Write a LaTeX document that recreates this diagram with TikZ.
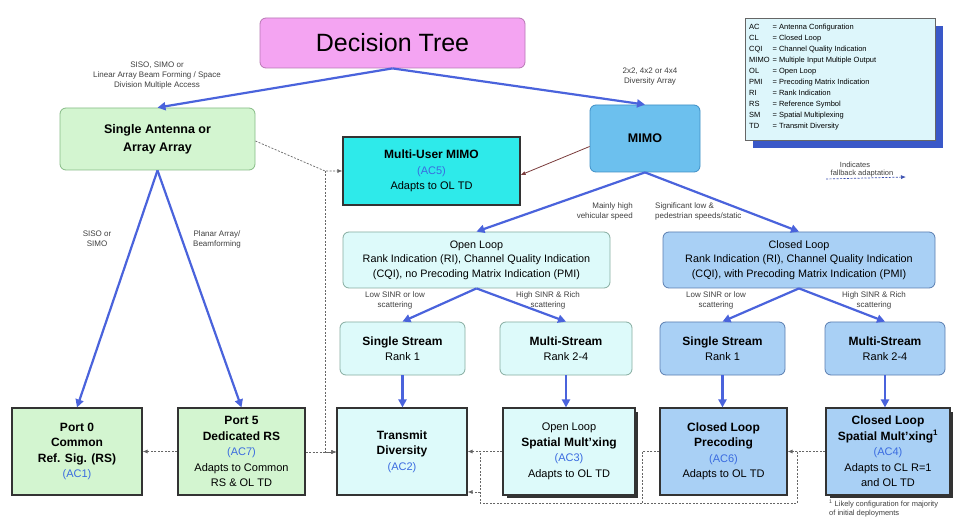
\documentclass[tikz,border=0pt]{standalone}
\usepackage{fontspec}
\setmainfont{Liberation Sans}
\usetikzlibrary{arrows.meta,calc}
\definecolor{pinkbox}{HTML}{F4A4F2}
\definecolor{pinkline}{HTML}{B878B4}
\definecolor{greenbox}{HTML}{D3F5D0}
\definecolor{greenline}{HTML}{86BC86}
\definecolor{mimoblue}{HTML}{6CC0EE}
\definecolor{mimoline}{HTML}{3F8FC6}
\definecolor{mucyan}{HTML}{2EEAEA}
\definecolor{olcyan}{HTML}{DDFAFA}
\definecolor{olline}{HTML}{86ACA0}
\definecolor{clblue}{HTML}{A9D0F5}
\definecolor{clline}{HTML}{5A7DB0}
\definecolor{flowblue}{HTML}{4A63DC}
\definecolor{acblue}{HTML}{3A6BE0}
\definecolor{legendbg}{HTML}{DDF6FB}
\definecolor{legendshadow}{HTML}{3A58C8}
\definecolor{muarrow}{HTML}{7A3B3B}

\newcommand\boxtitle[1]{{\fontsize{12}{15.5}\selectfont\bfseries #1}}
\newcommand\acnum[1]{\textcolor{acblue}{#1}}

\tikzset{
  base/.style={align=center, inner sep=2pt, font=\fontsize{11}{15.5}\selectfont},
  roundbox/.style={base, draw, line width=0.8pt, rounded corners=6pt},
  flatbox/.style={base, draw=black!80, line width=1.1pt},
  flow/.style={draw=flowblue, line width=2.2pt, -{Triangle[length=8pt,width=8pt]}},
  fallback/.style={draw=black!60, line width=0.7pt, dash pattern=on 2pt off 1.5pt, -{Latex[length=5pt,width=4pt]}},
  fbline/.style={draw=black!60, line width=0.7pt, dash pattern=on 2pt off 1.5pt},
  sidearrow/.style={draw=muarrow, line width=0.8pt, -{Latex[length=5pt,width=4pt]}},
  note/.style={font=\fontsize{8}{10}\selectfont, align=center, text=black!75, inner sep=0pt},
}

\begin{document}
\begin{tikzpicture}[x=1pt,y=-1pt]
\useasboundingbox (0,0) rectangle (956,521);
\fill[white] (0,0) rectangle (956,521);

% ---- top level ----
\node[roundbox, draw=pinkline, fill=pinkbox, minimum width=265pt, minimum height=50pt,
      font=\fontsize{25}{29}\selectfont] (dt) at (392.5,43) {Decision Tree};
\node[roundbox, draw=greenline, fill=greenbox, minimum width=195pt, minimum height=62pt,
      font=\fontsize{12.5}{18}\selectfont\bfseries] (sa) at (157.5,139) {Single Antenna or\\Array Array};
\node[roundbox, draw=mimoline, fill=mimoblue, minimum width=110pt, minimum height=67pt,
      font=\fontsize{12.5}{18}\selectfont\bfseries] (mimo) at (645,138.5) {MIMO};
\node[flatbox, fill=mucyan, minimum width=177pt, minimum height=68pt] (mu) at (431.5,171)
      {\boxtitle{Multi-User MIMO}\\\acnum{(AC5)}\\Adapts to OL TD};

% ---- legend ----
\fill[legendshadow] (753,26) rectangle (943,148);
\node[draw=black!60, fill=legendbg, minimum width=190pt, minimum height=122pt, inner sep=0pt] (legend) at (840,79) {};
\node[anchor=north west, inner sep=0pt, font=\fontsize{7.5}{11}\selectfont] (legendtext) at (749,22) {%
  \begin{tabular}{@{}l@{\hspace{3pt}}l@{}}
  AC & = Antenna Configuration\\
  CL & = Closed Loop\\
  CQI & = Channel Quality Indication\\
  MIMO & = Multiple Input Multiple Output\\
  OL & = Open Loop\\
  PMI & = Precoding Matrix Indication\\
  RI & = Rank Indication\\
  RS & = Reference Symbol\\
  SM & = Spatial Multiplexing\\
  TD & = Transmit Diversity
  \end{tabular}};
\node[note, font=\fontsize{7.5}{9}\selectfont] (indic) at (855,165) {Indicates};
\node[note, font=\fontsize{7.5}{9}\selectfont] (fbtext) at (862,174) {fallback adaptation};
\coordinate (kstart) at (826,179);
\coordinate (kend) at (906,177);
\draw[fallback, draw=flowblue!80!black] (kstart) -- (kend);

% ---- second level ----
\node[roundbox, draw=olline, fill=olcyan, minimum width=267pt, minimum height=56pt,
      font=\fontsize{10.8}{14.5}\selectfont] (ol) at (476.5,260)
      {Open Loop\\Rank Indication (RI), Channel Quality Indication\\(CQI), no Precoding Matrix Indication (PMI)};
\node[roundbox, draw=clline, fill=clblue, minimum width=272pt, minimum height=56pt,
      font=\fontsize{10.8}{14.5}\selectfont] (cl) at (799,260)
      {Closed Loop\\Rank Indication (RI), Channel Quality Indication\\(CQI), with Precoding Matrix Indication (PMI)};

\node[roundbox, draw=olline, fill=olcyan, minimum width=125pt, minimum height=53pt] (ss1) at (402.5,348.5)
      {\boxtitle{Single Stream}\\Rank 1};
\node[roundbox, draw=olline, fill=olcyan, minimum width=132pt, minimum height=53pt] (ms1) at (566,348.5)
      {\boxtitle{Multi-Stream}\\Rank 2-4};
\node[roundbox, draw=clline, fill=clblue, minimum width=125pt, minimum height=53pt] (ss2) at (722.5,348.5)
      {\boxtitle{Single Stream}\\Rank 1};
\node[roundbox, draw=clline, fill=clblue, minimum width=120pt, minimum height=53pt] (ms2) at (885,348.5)
      {\boxtitle{Multi-Stream}\\Rank 2-4};

% ---- antenna configurations ----
\node[flatbox, fill=greenbox, minimum width=130pt, minimum height=87pt] (p0) at (77,451.5)
      {\boxtitle{Port 0}\\\boxtitle{Common}\\\boxtitle{Ref. Sig. (RS)}\\\acnum{(AC1)}};
\node[flatbox, fill=greenbox, minimum width=127pt, minimum height=87pt] (p5) at (241.5,451.5)
      {\boxtitle{Port 5}\\\boxtitle{Dedicated RS}\\\acnum{(AC7)}\\Adapts to Common\\RS \& OL TD};
\node[flatbox, fill=olcyan, minimum width=130pt, minimum height=87pt] (td) at (402,451.5)
      {\boxtitle{Transmit}\\\boxtitle{Diversity}\\\acnum{(AC2)}};
\fill[black!80] (507,412) rectangle (638,498);
\node[flatbox, fill=olcyan, minimum width=132pt, minimum height=87pt] (olsm) at (569,451.5)
      {Open Loop\\\boxtitle{Spatial Mult'xing}\\\acnum{(AC3)}\\Adapts to OL TD};
\node[flatbox, fill=clblue, minimum width=127pt, minimum height=87pt] (clp) at (723.5,451.5)
      {\boxtitle{Closed Loop}\\\boxtitle{Precoding}\\\acnum{(AC6)}\\Adapts to OL TD};
\fill[black!80] (830,412) rectangle (953,498);
\node[flatbox, fill=clblue, minimum width=124pt, minimum height=87pt] (clsm) at (888,451.5)
      {\boxtitle{Closed Loop}\\\boxtitle{Spatial Mult'xing\textsuperscript{1}}\\\acnum{(AC4)}\\Adapts to CL R=1\\and OL TD};

\node[note, align=left, anchor=north west, font=\fontsize{7.5}{9}\selectfont] (foot) at (829,500)
      {\textsuperscript{1} Likely configuration for majority\\of initial deployments};

% ---- branch labels ----
\node[note] (l1) at (157,76) {SISO, SIMO or\\Linear Array Beam Forming / Space\\Division Multiple Access};
\node[note] (l2) at (650,77) {2x2, 4x2 or 4x4\\Diversity Array};
\node[note] (l3) at (97,239) {SISO or\\SIMO};
\node[note] (l4) at (217,239) {Planar Array/\\Beamforming};
\node[note, align=right, anchor=east] (l5) at (633,211) {Mainly high\\vehicular speed};
\node[note, align=left, anchor=west] (l6) at (655,211) {Significant low \&\\pedestrian speeds/static};
\node[note] (l7) at (395,300) {Low SINR or low\\scattering};
\node[note] (l8) at (548,300) {High SINR \& Rich\\scattering};
\node[note] (l9) at (716,300) {Low SINR or low\\scattering};
\node[note] (l10) at (874,300) {High SINR \& Rich\\scattering};

% ---- decision flow ----
\draw[flow] (dt.south) -- (sa.north);
\draw[flow] (dt.south) -- (mimo.north);
\draw[flow] (sa.south) -- (p0.north);
\draw[flow] (sa.south) -- (p5.north);
\draw[flow] (mimo.south) -- (ol.north);
\draw[flow] (mimo.south) -- (cl.north);
\draw[flow] (ol.south) -- (ss1.north);
\draw[flow] (ol.south) -- (ms1.north);
\draw[flow] (cl.south) -- (ss2.north);
\draw[flow] (cl.south) -- (ms2.north);
\draw[flow] (ss1.south) -- (ss1.south |- td.north);
\draw[flow] (ms1.south) -- (ms1.south |- olsm.north);
\draw[flow] (ss2.south) -- (ss2.south |- clp.north);
\draw[flow] (ms2.south) -- (ms2.south |- clsm.north);

% ---- multi-user branches ----
\draw[sidearrow] ($(mimo.west)+(0,8)$) -- ($(mu.east)+(0,4)$);
\coordinate (mujoin) at (325,171);
\draw[fallback] ($(sa.east)+(0,2)$) -- (mujoin) -- (mu.west);

% ---- fallback adaptation ----
\coordinate (mudown) at (325,452);
\draw[fbline] (mujoin) -- (mudown);
\draw[fallback] (mudown) -- (td.west |- mudown);
\draw[fallback] (p5.east |- mudown) -- (td.west |- mudown);
\draw[fallback] (p5.west) -- (p0.east);
\draw[fallback] (olsm.west) -- (td.east);
\draw[fallback] (clsm.west) -- (clp.east);
\coordinate (cla) at (797,451.5);
\coordinate (clb) at (797,503);
\coordinate (clc) at (480,503);
\coordinate (cld) at (480,452);
\coordinate (cle) at (480,492);
\coordinate (clf) at (642,451.5);
\coordinate (clg) at (642,503);
\draw[fbline] (cla) -- (clb) -- (clc) -- (cld);
\draw[fallback] (cle) -- (td.east |- cle);
\draw[fbline] (clp.west) -- (clf) -- (clg);
\end{tikzpicture}
\end{document}
